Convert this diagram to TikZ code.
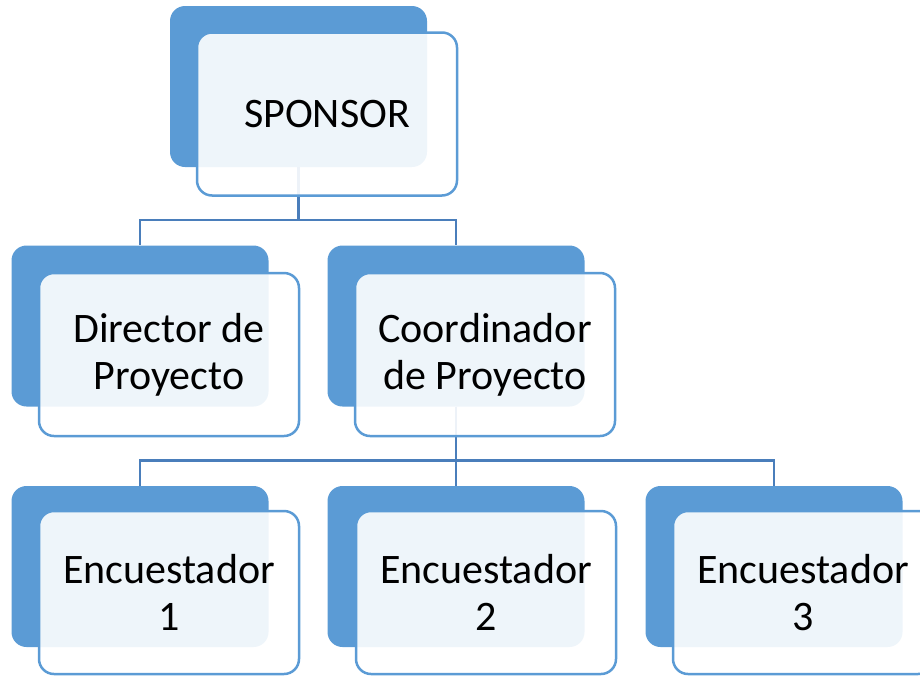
\documentclass[tikz,border=0pt]{standalone}
\usepackage{fontspec}
\setmainfont{Carlito}
\usetikzlibrary{backgrounds}
\definecolor{blueA}{RGB}{91,155,213}
\definecolor{connC}{RGB}{74,126,187}
\tikzset{
  backbox/.style={fill=blueA, draw=none, rounded corners=15pt, minimum width=257pt, minimum height=161pt, inner sep=0pt},
  frontbox/.style={fill=white, fill opacity=0.9, text opacity=1, draw=blueA, line width=2.5pt, rounded corners=15pt, minimum width=260pt, minimum height=163pt, inner sep=0pt, align=center, font=\fontsize{42}{47}\selectfont},
  conn/.style={draw=connC, line width=2.5pt}
}
\begin{document}
\begin{tikzpicture}[x=1pt,y=-1pt]
\useasboundingbox (0,0) rectangle (920,675);
\clip (0,0) rectangle (920,675);
% level 0
\node[backbox] (spB) at (298.5,86.5) {};
\node[frontbox] (sp) at (327,114) {SPONSOR};
% level 1
\node[backbox] (dirB) at (140,326) {};
\node[frontbox] (dir) at (169,354.5) {Director de\\Proyecto};
\node[backbox] (coB) at (456,326) {};
\node[frontbox] (co) at (485,354.5) {Coordinador\\de Proyecto};
% level 2
\node[backbox] (e1B) at (140,566.5) {};
\node[frontbox] (e1) at (169,592.5) {Encuestador\\1};
\node[backbox] (e2B) at (456,566.5) {};
\node[frontbox] (e2) at (486,592.5) {Encuestador\\2};
\node[backbox] (e3B) at (774,566.5) {};
\node[frontbox] (e3) at (803,592.5) {Encuestador\\3};
% connectors
\begin{scope}[on background layer]
\draw[conn] (spB.south) -- ++(0,53) -| (dirB.north);
\draw[conn] (spB.south) -- ++(0,53) -| (coB.north);
\draw[conn] (coB.south) -- ++(0,54) -| (e1B.north);
\draw[conn] (coB.south) -- ++(0,54) -| (e2B.north);
\draw[conn] (coB.south) -- ++(0,54) -| (e3B.north);
\end{scope}
\end{tikzpicture}
\end{document}
